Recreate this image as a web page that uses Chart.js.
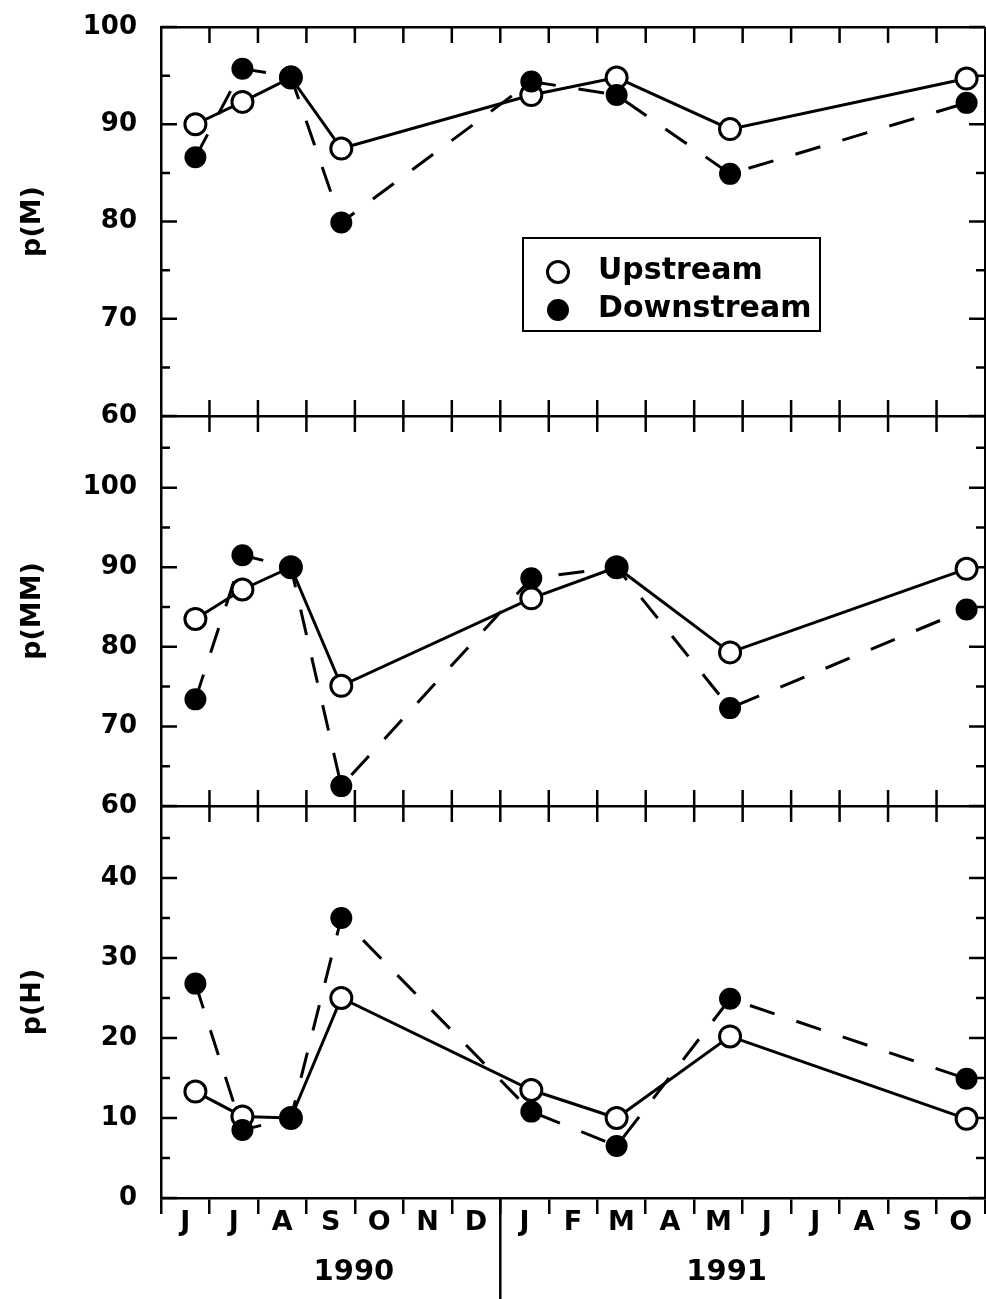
<!DOCTYPE html>
<html>
<head>
<meta charset="utf-8">
<script src="https://cdn.jsdelivr.net/npm/chart.js@4.4.1/dist/chart.umd.min.js"></script>
<style>
  html, body { margin: 0; padding: 0; background: #fff; }
  #wrap { position: relative; width: 986px; height: 1299px; }
  canvas { display: block; }
</style>
</head>
<body>
<div id="wrap"><canvas id="c" width="986" height="1299"></canvas></div>
<script>
// Sampling dates, in months counted from 1 June 1990
const sampleMonths = [0.71, 1.68, 2.68, 3.72, 7.64, 9.40, 11.74, 16.62];

// Month initials along the time axis (June 1990 .. October 1991)
const monthLetters = ['J', 'J', 'A', 'S', 'O', 'N', 'D', 'J', 'F', 'M', 'A', 'M', 'J', 'J', 'A', 'S', 'O'];
const yearLabels = ['1990', '1991'];

// p(M)
const upM   = [90.0, 92.3, 94.8, 87.5, 93.0, 94.8, 89.5, 94.7];
const downM = [86.6, 95.7, 94.9, 79.9, 94.4, 93.0, 84.9, 92.2];
// p(MM)
const upMM   = [83.5, 87.2, 90.0, 75.1, 86.1, 90.0, 79.3, 89.8];
const downMM = [73.4, 91.5, 90.0, 62.5, 88.6, 90.0, 72.3, 84.7];
// p(H)
const upH   = [13.3, 10.2, 10.0, 25.0, 13.5, 10.0, 20.2, 9.9];
const downH = [26.8, 8.5, 10.0, 35.0, 10.8, 6.5, 24.9, 14.9];

// Y tick values per panel
const yTicksM  = [60, 65, 70, 75, 80, 85, 90, 95, 100];
const yTicksMM = [60, 65, 70, 75, 80, 85, 90, 95, 100, 105];
const yTicksH  = [0, 5, 10, 15, 20, 25, 30, 35, 40, 45];

const FONT = 'DejaVu Sans';
const INK = '#000';
const LINE_W = 2.5;

const toPoints = vals => vals.map((v, i) => ({ x: sampleMonths[i], y: v }));

const upstreamStyle = {
  borderColor: INK, borderWidth: 3, tension: 0,
  pointStyle: 'circle', pointRadius: 10.5, pointBorderWidth: 3,
  pointBackgroundColor: '#fff', pointBorderColor: INK, order: 2
};
const downstreamStyle = {
  borderColor: INK, borderWidth: 3, borderDash: [26, 23], tension: 0,
  pointStyle: 'circle', pointRadius: 10, pointBorderWidth: 2,
  pointBackgroundColor: INK, pointBorderColor: INK, order: 1
};

const datasets = [
  { label: 'Upstream',   data: toPoints(upM),    yAxisID: 'yM',  ...upstreamStyle },
  { label: 'Downstream', data: toPoints(downM),  yAxisID: 'yM',  ...downstreamStyle },
  { label: 'Upstream',   data: toPoints(upMM),   yAxisID: 'yMM', ...upstreamStyle },
  { label: 'Downstream', data: toPoints(downMM), yAxisID: 'yMM', ...downstreamStyle },
  { label: 'Upstream',   data: toPoints(upH),    yAxisID: 'yH',  ...upstreamStyle },
  { label: 'Downstream', data: toPoints(downH),  yAxisID: 'yH',  ...downstreamStyle }
];

// Scales keep their own label overhang out of the layout
function noOverhang(s) {
  s.paddingLeft = 0; s.paddingRight = 0; s.paddingTop = 0; s.paddingBottom = 0;
}

// One stacked left axis per panel
function panelAxis(title, min, max, ticks, weight, stackWeight, frameValues) {
  return {
    type: 'linear', position: 'left', stack: 'panels', weight, stackWeight,
    min, max,
    afterBuildTicks: s => { s.ticks = ticks.map(v => ({ value: v })); },
    afterFit: s => { s.width = 161; noOverhang(s); },
    border: { display: true, color: INK, width: LINE_W },
    grid: {
      display: true, drawTicks: false, drawOnChartArea: true, lineWidth: LINE_W,
      color: c => (c.tick && frameValues.includes(c.tick.value)) ? INK : 'rgba(0,0,0,0)'
    },
    ticks: {
      autoSkip: false, padding: 24, color: INK,
      font: { family: FONT, size: 26, weight: 'bold' },
      callback: v => (v % 10 === 0 ? String(v) : '')
    },
    title: {
      display: true, text: title, color: INK,
      font: { family: FONT, size: 27, weight: 'bold' },
      padding: { top: 17, bottom: 0 }
    }
  };
}

// Inward tick marks on every side of each panel
const frameTicks = {
  id: 'frameTicks',
  beforeDatasetsDraw(chart) {
    const { ctx, chartArea: a, scales } = chart;
    const x = scales.x;
    const panels = [scales.yM, scales.yMM, scales.yH];
    ctx.save();
    ctx.strokeStyle = INK;
    ctx.lineWidth = LINE_W;
    ctx.beginPath();
    panels.forEach((s, idx) => {
      s.ticks.forEach(t => {
        const y = s.getPixelForValue(t.value);
        const len = t.value % 10 === 0 ? 16 : 9;
        ctx.moveTo(a.left, y); ctx.lineTo(a.left + len, y);
        ctx.moveTo(a.right, y); ctx.lineTo(a.right - len, y);
      });
      x.ticks.forEach(t => {
        const px = x.getPixelForValue(t.value);
        if (t.value <= x.min || t.value >= x.max) return;
        ctx.moveTo(px, s.top); ctx.lineTo(px, s.top + 16);
        if (idx < panels.length - 1) {
          ctx.moveTo(px, s.bottom); ctx.lineTo(px, s.bottom - 16);
        }
      });
    });
    ctx.stroke();
    ctx.restore();
  },
  afterDraw(chart) {
    const { ctx, scales } = chart;
    const x = scales.x;
    ctx.save();
    // year divider below the axis
    const divX = x.getPixelForValue(7);
    ctx.strokeStyle = INK;
    ctx.lineWidth = LINE_W;
    ctx.beginPath();
    ctx.moveTo(divX, x.top);
    ctx.lineTo(divX, chart.height);
    ctx.stroke();
    // year labels
    ctx.fillStyle = INK;
    ctx.font = `bold 29px "${FONT}"`;
    ctx.textAlign = 'center';
    ctx.textBaseline = 'middle';
    const yearCentres = [3.98, 11.67];
    yearLabels.forEach((txt, i) => ctx.fillText(txt, x.getPixelForValue(yearCentres[i]), 1272));

    // legend box inside the top panel
    const bx = 523, by = 238, bw = 297, bh = 93;
    ctx.fillStyle = '#fff';
    ctx.fillRect(bx, by, bw, bh);
    ctx.lineWidth = 2;
    ctx.strokeRect(bx, by, bw, bh);
    const entries = [chart.data.datasets[0], chart.data.datasets[1]];
    const rows = [272, 310];
    entries.forEach((ds, i) => {
      ctx.fillStyle = ds.pointBackgroundColor;
      ctx.strokeStyle = ds.pointBorderColor;
      ctx.lineWidth = ds.pointBorderWidth;
      Chart.helpers.drawPoint(ctx, { pointStyle: 'circle', radius: ds.pointRadius, borderWidth: ds.pointBorderWidth, rotation: 0 }, 558, rows[i]);
      ctx.fillStyle = INK;
      ctx.font = `bold 30px "${FONT}"`;
      ctx.textAlign = 'left';
      ctx.textBaseline = 'middle';
      ctx.fillText(ds.label, 598, rows[i] - 1);
    });
    ctx.restore();
  }
};

new Chart(document.getElementById('c'), {
  type: 'line',
  data: { datasets },
  options: {
    responsive: false,
    animation: false,
    events: [],
    layout: { autoPadding: false, padding: { top: 27, right: 1, bottom: 0, left: 0 } },
    plugins: { legend: { display: false }, tooltip: { enabled: false } },
    scales: {
      x: {
        type: 'linear', position: 'bottom', min: 0, max: monthLetters.length,
        afterBuildTicks: s => { s.ticks = monthLetters.concat(['']).map((_, i) => ({ value: i })); },
        afterFit: s => { s.height = 101; noOverhang(s); },
        border: { display: true, color: INK, width: LINE_W },
        grid: {
          display: true, drawOnChartArea: true, drawTicks: true,
          tickLength: 16, lineWidth: LINE_W, tickWidth: LINE_W, tickColor: INK,
          color: c => (c.tick && c.tick.value === monthLetters.length) ? INK : 'rgba(0,0,0,0)'
        },
        ticks: {
          autoSkip: false, maxRotation: 0, minRotation: 0, padding: -7,
          labelOffset: 24.24, color: INK,
          font: { family: FONT, size: 27, weight: 'bold' },
          callback: (v, i) => monthLetters[i] || ''
        }
      },
      yM:  panelAxis('p(M)',  60, 100, yTicksM,  3, 389, [60, 100]),
      yMM: panelAxis('p(MM)', 60, 109, yTicksMM, 2, 390, [60]),
      yH:  panelAxis('p(H)',  0,  49,  yTicksH,  1, 392, [])
    }
  },
  plugins: [frameTicks]
});
</script>
</body>
</html>
